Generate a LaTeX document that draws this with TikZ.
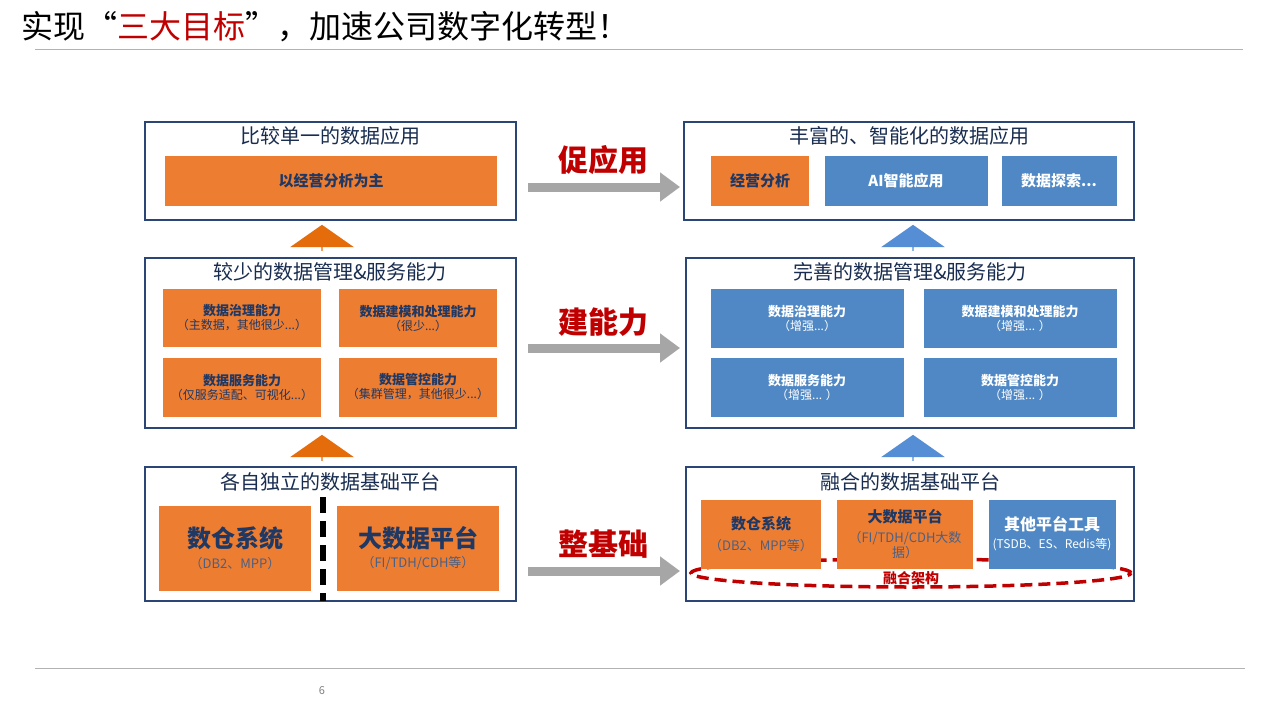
\documentclass[tikz,border=0pt]{standalone}
\usepackage{fontspec}
\setmainfont{Noto Sans CJK SC}
\usetikzlibrary{positioning, arrows.meta, calc, shapes.arrows}
\definecolor{orgbox}{HTML}{ED7D31}
\definecolor{bluebox}{HTML}{4F88C4}
\definecolor{navy}{HTML}{2B4574}
\definecolor{boxtext}{HTML}{1F3864}
\definecolor{darkred}{HTML}{C00000}
\definecolor{uporg}{HTML}{E46C0A}
\definecolor{upblue}{HTML}{558ED5}
\newcommand\capfnt{\bfseries\fontsize{15}{18}\selectfont}
\newcommand\subfnt{\fontsize{13}{16}\selectfont}
\newcommand\twoline[2]{\textbf{\fontsize{13}{16}\selectfont #1}\\[2pt]{\fontsize{12}{14}\selectfont #2}}
\tikzset{
  frame/.style={draw=navy, line width=2.5pt, fill=white},
  head/.style={font=\fontsize{20}{22}\selectfont, text=boxtext!80!black},
  obox/.style={fill=orgbox, text=boxtext, align=center, inner sep=0pt},
  bbox/.style={fill=bluebox, text=white, align=center, inner sep=0pt},
  boldcap/.style={font=\capfnt},
  grey arrow/.style={draw=black!35, line width=9pt, -{Triangle[length=20pt,width=28pt]}},
  tag/.style={font=\bfseries\fontsize{30}{32}\selectfont, text=darkred},
  up/.style={single arrow, rotate=90, minimum width=64pt, single arrow head extend=12pt,
             minimum height=26pt, inner sep=0pt, single arrow tip angle=110}
}
\begin{document}
\begin{tikzpicture}[x=1pt, y=-1pt]
\useasboundingbox[fill=white] (0,0) rectangle (1280,720);
% title
\node[anchor=west, font=\fontsize{32}{34}\selectfont] (title) at (18,27)
  {实现“\textcolor{darkred}{三大目标}”，加速公司数字化转型！};
\draw[black!30] (35,49) -- (1243,49);
\draw[black!30] (35,668) -- (1245,668);
\node[font=\fontsize{11}{12}\selectfont, text=black!50] (page) at (322,691) {6};

% left column
\draw[frame] (145,122) rectangle (516,220);
\node[head] (lth) at (330,136) {比较单一的数据应用};
\node[obox, boldcap, minimum width=332pt, minimum height=50pt] (lt) at (331,181) {以经营分析为主};

\draw[frame] (145,258) rectangle (516,428);
\node[head] (lmh) at (330,272) {较少的数据管理\&服务能力};
\node[obox, minimum width=158pt, minimum height=58pt] (lm1) at (242,318) {\twoline{数据治理能力}{（主数据，其他很少...）}};
\node[obox, minimum width=158pt, minimum height=58pt] (lm2) at (418,318) {\twoline{数据建模和处理能力}{（很少...）}};
\node[obox, minimum width=158pt, minimum height=59pt] (lm3) at (242,387) {\twoline{数据服务能力}{（仅服务适配、可视化...）}};
\node[obox, minimum width=158pt, minimum height=59pt] (lm4) at (418,387) {\twoline{数据管控能力}{（集群管理，其他很少...）}};

\draw[frame] (145,467) rectangle (516,601);
\node[head] (lbh) at (330,482) {各自独立的数据基础平台};
\node[obox, minimum width=152pt, minimum height=85pt] (lb1) at (235,548)
  {{\bfseries\fontsize{24}{28}\selectfont 数仓系统}\\[6pt]{\subfnt\color{boxtext!80} （DB2、MPP）}};
\node[obox, minimum width=162pt, minimum height=85pt] (lb2) at (418,548)
  {{\bfseries\fontsize{24}{28}\selectfont 大数据平台}\\[6pt]{\subfnt\color{boxtext!80} （FI/TDH/CDH等）}};
\draw[line width=6pt, dash pattern=on 16pt off 8pt] (323,497) -- (323,601);

% right column
\draw[frame] (684,122) rectangle (1134,220);
\node[head] (rth) at (909,136) {丰富的、智能化的数据应用};
\node[obox, boldcap, minimum width=98pt, minimum height=50pt] (rt1) at (760,181) {经营分析};
\node[bbox, boldcap, minimum width=163pt, minimum height=50pt] (rt2) at (906,181) {AI智能应用};
\node[bbox, boldcap, minimum width=115pt, minimum height=50pt] (rt3) at (1059,181) {数据探索...};

\draw[frame] (686,258) rectangle (1134,428);
\node[head] (rmh) at (910,272) {完善的数据管理\&服务能力};
\node[bbox, minimum width=193pt, minimum height=59pt] (rm1) at (807,318) {\twoline{数据治理能力}{（增强...）}};
\node[bbox, minimum width=193pt, minimum height=59pt] (rm2) at (1020,318) {\twoline{数据建模和处理能力}{（增强... ）}};
\node[bbox, minimum width=193pt, minimum height=59pt] (rm3) at (807,387) {\twoline{数据服务能力}{（增强... ）}};
\node[bbox, minimum width=193pt, minimum height=59pt] (rm4) at (1020,387) {\twoline{数据管控能力}{（增强... ）}};

\draw[frame] (686,467) rectangle (1134,601);
\node[head] (rbh) at (910,482) {融合的数据基础平台};
\draw[darkred, line width=3.5pt, dash pattern=on 12pt off 6pt] (911,573) ellipse (220pt and 14pt);
\node[obox, minimum width=120pt, minimum height=69pt] (rb1) at (761,534)
  {{\capfnt 数仓系统}\\[8pt]{\subfnt\color{boxtext!80} （DB2、MPP等）}};
\node[obox, minimum width=136pt, minimum height=69pt, text width=130pt] (rb2) at (905,534)
  {{\capfnt 大数据平台}\\[4pt]{\subfnt\color{boxtext!80} （FI/TDH/CDH大数\\据）}};
\node[bbox, minimum width=127pt, minimum height=69pt] (rb3) at (1052,534)
  {{\bfseries\fontsize{16}{19}\selectfont 其他平台工具}\\[6pt]{\fontsize{12}{14}\selectfont (TSDB、ES、Redis等)}};
\node[font=\bfseries\fontsize{14}{16}\selectfont, text=darkred] (fuse) at (911,578) {融合架构};

% grey arrows between columns
\draw[grey arrow] (528,187) -- (680,187);
\draw[grey arrow] (528,348) -- (680,348);
\draw[grey arrow] (528,571) -- (680,571);
\node[tag] (t1) at (603,160) {促应用};
\node[tag] (t2) at (603,322) {建能力};
\node[tag] (t3) at (603,544) {整基础};

% up arrows
\node[up, fill=uporg] (ua1) at (322,238) {};
\node[up, fill=uporg] (ua2) at (322,448) {};
\node[up, fill=upblue] (ub1) at (913,238) {};
\node[up, fill=upblue] (ub2) at (913,448) {};
\end{tikzpicture}
\end{document}
